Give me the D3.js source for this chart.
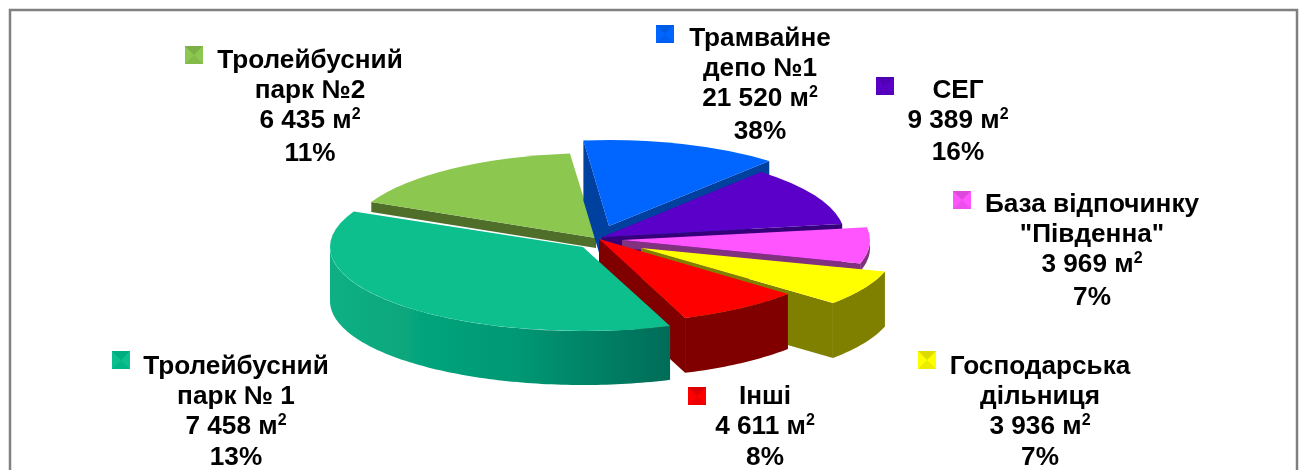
<!DOCTYPE html>
<html><head><meta charset="utf-8">
<script src="https://cdn.jsdelivr.net/npm/d3@7"></script>
<style>html,body{margin:0;padding:0;background:#fff;overflow:hidden}svg{display:block}
text{font-family:"Liberation Sans",Arial,sans-serif;font-weight:bold;fill:#000;text-anchor:middle}</style>
</head><body><svg id="c" width="1306" height="470"></svg>
<script>
// Data: slices in clockwise order from the top of the pie
const sliceKeys = ["blue","purple","pink","yellow","red","teal","green"];
const sliceAreas = [7458, 6435, 3969, 3936, 4611, 21520, 9389];
// Legend labels exactly as printed beside each colour marker
const labelNames = [["Трамвайне","депо №1"],["СЕГ"],["База відпочинку","\"Південна\""],["Господарська","дільниця"],["Інші"],["Тролейбусний","парк № 1"],["Тролейбусний","парк №2"]];
const labelAreas = ["21 520","9 389","3 969","3 936","4 611","7 458","6 435"];
const labelPercents = ["38%","16%","7%","7%","8%","13%","11%"];

// Styles / layout
const topColors = {blue:"#0066ff",purple:"#5a00c8",pink:"#ff55ff",yellow:"#ffff00",red:"#ff0000",teal:"#08bf8c",green:"#8cc850"};
const wallColors = {blue:"#003f9e",purple:"#36007a",pink:"#80307f",yellow:"#808000",red:"#800000",teal:"#007f66",green:"#4f6e2a"};
const pose = {
  blue:{x:609,y:226,rx:245,ry:86,h:60},
  purple:{x:602,y:237,rx:243,ry:86,h:50},
  pink:{x:622,y:240,rx:248,ry:84,h:8},
  yellow:{x:641,y:248,rx:254,ry:84,h:55},
  red:{x:599,y:239,rx:250,ry:84,h:55},
  teal:{x:583,y:247,rx:253,ry:84,h:54},
  green:{x:596,y:238,rx:248,ry:85,h:10}
};
const labelLayout = {
  blue:{cx:760,y:38,m:[656,25]}, purple:{cx:958,y:90,m:[876,77],step:30,pct:2}, pink:{cx:1092,y:204,m:[953,191]},
  yellow:{cx:1040,y:366,m:[918,351],pct:1}, red:{cx:765,y:396,m:[688,387],pct:1}, teal:{cx:236,y:366,m:[112,351],pct:1}, green:{cx:310,y:60,m:[185,46]}
};
const svg = d3.select("#c");
const W=1306,H=470;
svg.append("rect").attr("x",10).attr("y",10).attr("width",1287).attr("height",H+20).attr("fill","#fff").attr("stroke","#808080").attr("stroke-width",2.5);

const pie = d3.pie().sort(null).value(d=>d).startAngle(-6*Math.PI/180).endAngle(354*Math.PI/180);
const arcs = pie(sliceAreas);
const defs = svg.append("defs");
const tg = defs.append("linearGradient").attr("id","tealWall").attr("x1","0").attr("x2","1").attr("y1","0").attr("y2","0");
tg.append("stop").attr("offset","0").attr("stop-color","#0cb084");
tg.append("stop").attr("offset","0.55").attr("stop-color","#009874");
tg.append("stop").attr("offset","1").attr("stop-color","#006c58");
const bl = defs.append("filter").attr("id","soft").attr("x","-5%").attr("y","-5%").attr("width","110%").attr("height","110%");
bl.append("feGaussianBlur").attr("stdDeviation",0.6);
const bt = defs.append("filter").attr("id","softText").attr("x","-5%").attr("y","-5%").attr("width","110%").attr("height","110%");
bt.append("feGaussianBlur").attr("stdDeviation",0.35);
const g = svg.append("g").attr("filter","url(#soft)");
const line = d3.line();
const drawOrder = ["green","blue","purple","pink","yellow","red","teal"];
drawOrder.forEach(k=>{
  const i = sliceKeys.indexOf(k), a = arcs[i], p = pose[k];
  const pt = (ang,dy=0)=>[p.x+p.rx*Math.sin(ang), p.y-p.ry*Math.cos(ang)+dy];
  const wall = wallColors[k];
  if (Math.sin(a.startAngle)<0) g.append("path").attr("d",line([[p.x,p.y],pt(a.startAngle),pt(a.startAngle,p.h),[p.x,p.y+p.h]])+"Z").attr("fill",wall);
  if (Math.sin(a.endAngle)>0) g.append("path").attr("d",line([[p.x,p.y],pt(a.endAngle),pt(a.endAngle,p.h),[p.x,p.y+p.h]])+"Z").attr("fill",wall);
  const lo = Math.max(a.startAngle,Math.PI/2), hi = Math.min(a.endAngle,1.5*Math.PI);
  if (hi>lo){
    const n = Math.ceil((hi-lo)/0.02), angs = d3.range(n+1).map(j=>lo+(hi-lo)*j/n);
    const pts = angs.map(t=>pt(t)).concat(angs.slice().reverse().map(t=>pt(t,p.h)));
    g.append("path").attr("d",line(pts)+"Z").attr("fill",k==="teal"?"url(#tealWall)":wall);
  }
  const arc = d3.arc().innerRadius(0).outerRadius(1).startAngle(a.startAngle).endAngle(a.endAngle);
  g.append("path").attr("d",arc()).attr("transform",`translate(${p.x},${p.y}) scale(${p.rx},${p.ry})`).attr("fill",topColors[k]);
});
// Labels
const fs=26.2;
sliceKeys.forEach((k,i)=>{
  const l = labelLayout[k], step=l.step||30;
  const lines = labelNames[i];
  const t = svg.append("g").attr("filter","url(#softText)");
  lines.forEach((s,j)=>t.append("text").attr("x",l.cx).attr("y",l.y+j*step+8).attr("font-size",fs).text(s));
  const yA = l.y+lines.length*step+8;
  const ta = t.append("text").attr("x",l.cx).attr("y",yA).attr("font-size",fs);
  ta.append("tspan").text(labelAreas[i]+" м");
  ta.append("tspan").attr("dy",-9).attr("font-size",16).text("2");
  t.append("text").attr("x",l.cx).attr("y",yA+step+(l.pct===undefined?3:l.pct)).attr("font-size",fs).text(labelPercents[i]);
  const s=18, m=svg.append("g").attr("transform",`translate(${l.m[0]},${l.m[1]})`).attr("filter","url(#softText)");
  m.append("rect").attr("width",s).attr("height",s).attr("fill",topColors[k]);
  m.append("path").attr("d",`M0,0L${s},0L${s/2},${s/2}Z`).attr("fill",wallColors[k]).attr("opacity",0.28);
  m.append("path").attr("d",`M0,${s}L${s},${s}L${s/2},${s/2}Z`).attr("fill",wallColors[k]).attr("opacity",0.15);
});
</script></body></html>
